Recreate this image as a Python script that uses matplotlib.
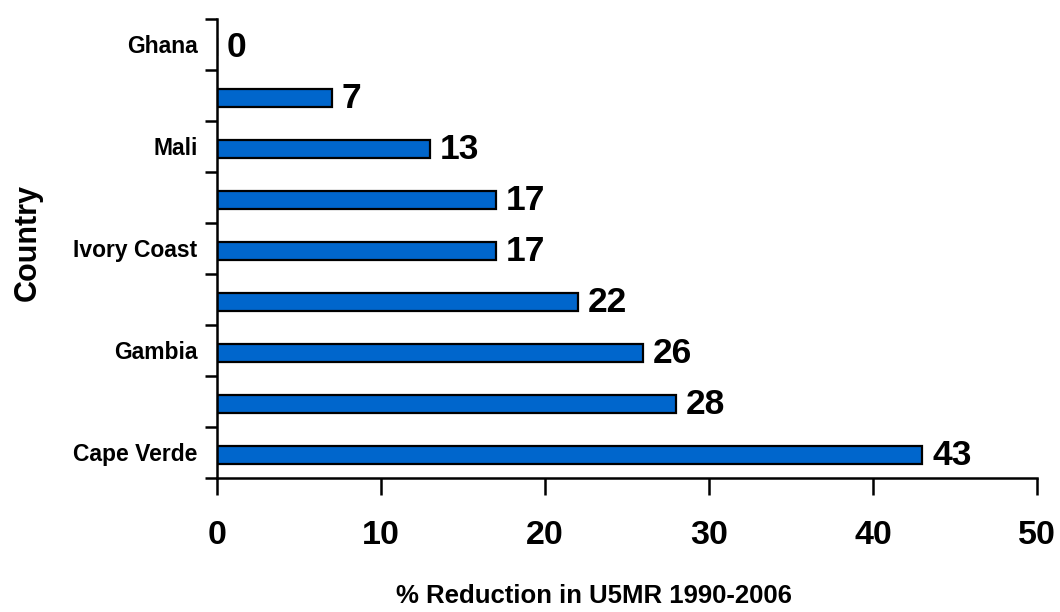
import numpy as np
import matplotlib
matplotlib.use('Agg')
import matplotlib.pyplot as plt

plt.rcParams['font.family'] = ['Liberation Sans', 'DejaVu Sans']
plt.rcParams['font.weight'] = 'bold'

# countries bottom to top; every second bar is left unlabeled on the axis
countries = ['Cape Verde', '', 'Gambia', '', 'Ivory Coast', '', 'Mali', '', 'Ghana']
reduction = [43, 28, 26, 22, 17, 17, 13, 7, 0]
xticks = [0, 10, 20, 30, 40, 50]

fig = plt.figure(figsize=(10.6, 6.12), dpi=100)
ax = fig.add_axes([0.2047, 0.219, 0.7736, 0.750])

y = np.arange(len(countries))
ax.barh(y - 0.05, reduction, height=0.36, color='#0066CC', edgecolor='black', linewidth=1.6)

for yi, v in zip(y, reduction):
    ax.text(v + 0.6, yi - 0.05, str(v), va='center', ha='left', fontsize=25.5, fontweight='bold')

ax.set_xlim(0, 50)
ax.set_ylim(-0.5, len(countries) - 0.5)

# ticks on category boundaries, labels at the bar centres
ax.set_yticks(np.arange(len(countries) + 1) - 0.5)
ax.set_yticklabels([])
ax.set_yticks(y, minor=True)
ax.set_yticklabels(countries, minor=True, fontsize=16.5, fontweight='bold')
ax.tick_params(axis='y', which='major', length=9, width=1.8, direction='out')
ax.tick_params(axis='y', which='minor', length=0, pad=14)

ax.set_xticks(xticks)
ax.set_xticklabels([str(t) for t in xticks], fontsize=24.5, fontweight='bold')
ax.tick_params(axis='x', length=12, width=1.8, direction='out', pad=18)

for s in ['top', 'right']:
    ax.spines[s].set_visible(False)
for s in ['left', 'bottom']:
    ax.spines[s].set_linewidth(1.8)

fig.text(0.026, 0.603, 'Country', rotation=90, ha='center', va='center', fontsize=22, fontweight='bold')
fig.text(0.5605, 0.026, '% Reduction in U5MR 1990-2006', ha='center', va='center', fontsize=18.5, fontweight='bold')

fig.savefig('out.png', dpi=100, facecolor='w')
